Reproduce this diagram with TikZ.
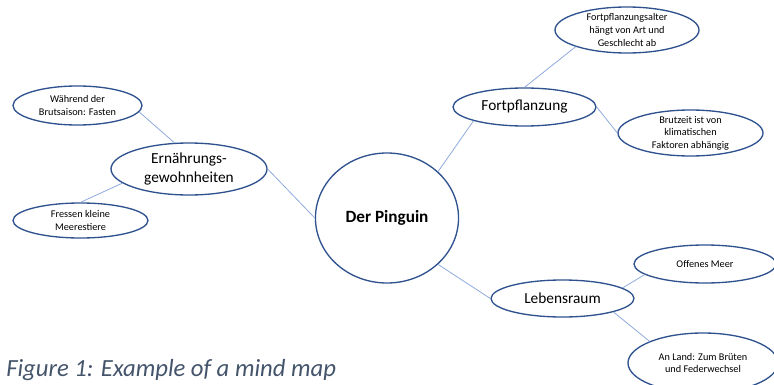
\documentclass[tikz,border=0pt]{standalone}
\usepackage{fontspec}
\setmainfont{Carlito}
\usetikzlibrary{shapes.geometric}

\definecolor{rimblue}{RGB}{47,82,143}
\definecolor{linkblue}{RGB}{143,170,220}
\definecolor{captiongray}{RGB}{68,84,106}

\begin{document}
\begin{tikzpicture}[
    x = 0.75pt, y = -0.75pt, % one unit = one pixel of the sketch
    topic/.style = {ellipse, draw = rimblue, line width = 1pt, fill = white,
        inner xsep = 0pt, inner ysep = -3pt, align = center,
        font = \fontsize{11.5}{14}\selectfont},
    leaf/.style = {topic, font = \fontsize{7.7}{9.4}\selectfont},
    link/.style = {draw = linkblue, line width = 0.6pt}
    ]

    \clip (0,0) rectangle (774,385);

    % centre
    \node[topic, minimum width = 107.3pt, minimum height = 97.5pt,
        font = \fontsize{12.9}{15}\bfseries] (ping) at (387,218) {Der Pinguin};

    % main branches
    \node[topic, minimum width = 117pt, minimum height = 39pt] (ern) at (189,169) {Ernährungs-\\gewohnheiten};
    \node[topic, minimum width = 107.25pt, minimum height = 28.5pt] (fort) at (524.5,107) {Fortpflanzung};
    \node[topic, minimum width = 107.25pt, minimum height = 27.75pt] (leben) at (562.5,298.5) {Lebensraum};

    % leaves
    \node[leaf, minimum width = 96.75pt, minimum height = 29.25pt] (waehr) at (77.5,105.5) {Während der\\Brutsaison: Fasten};
    \node[leaf, minimum width = 101.25pt, minimum height = 26.25pt] (fress) at (80.5,220.5) {Fressen kleine\\Meerestiere};
    \node[leaf, minimum width = 108pt, minimum height = 34.5pt] (alter) at (627,30) {Fortpflanzungsalter\\hängt von Art und\\Geschlecht ab};
    \node[leaf, minimum width = 108.75pt, minimum height = 34.5pt] (brut) at (690.5,133) {Brutzeit ist von\\klimatischen\\Faktoren abhängig};
    \node[leaf, minimum width = 106.5pt, minimum height = 28.5pt] (offen) at (705,264) {Offenes Meer};
    \node[leaf, minimum width = 112.5pt, minimum height = 45pt] (land) at (703,363) {An Land: Zum Brüten\\und Federwechsel};

    \path[link] (ern.east) edge (ping.west);
    \path[link] (ping.north east) edge (fort.south west);
    \path[link] (ping.south east) edge (leben.west);
    \path[link] (ern.119) edge (waehr.-6);
    \path[link] (ern.192) edge (fress.north);
    \path[link] (fort.north) edge (alter.south west);
    \path[link] (fort.east) edge (brut.west);
    \path[link] (leben.10) edge (offen.190);
    \path[link] (leben.south east) edge (land.north west);

    \node[anchor = base west, text = captiongray, inner sep = 0pt,
        font = \fontsize{18.5}{20}\itshape] (caption) at (6,376) {Figure 1: Example of a mind map};
\end{tikzpicture}
\end{document}
